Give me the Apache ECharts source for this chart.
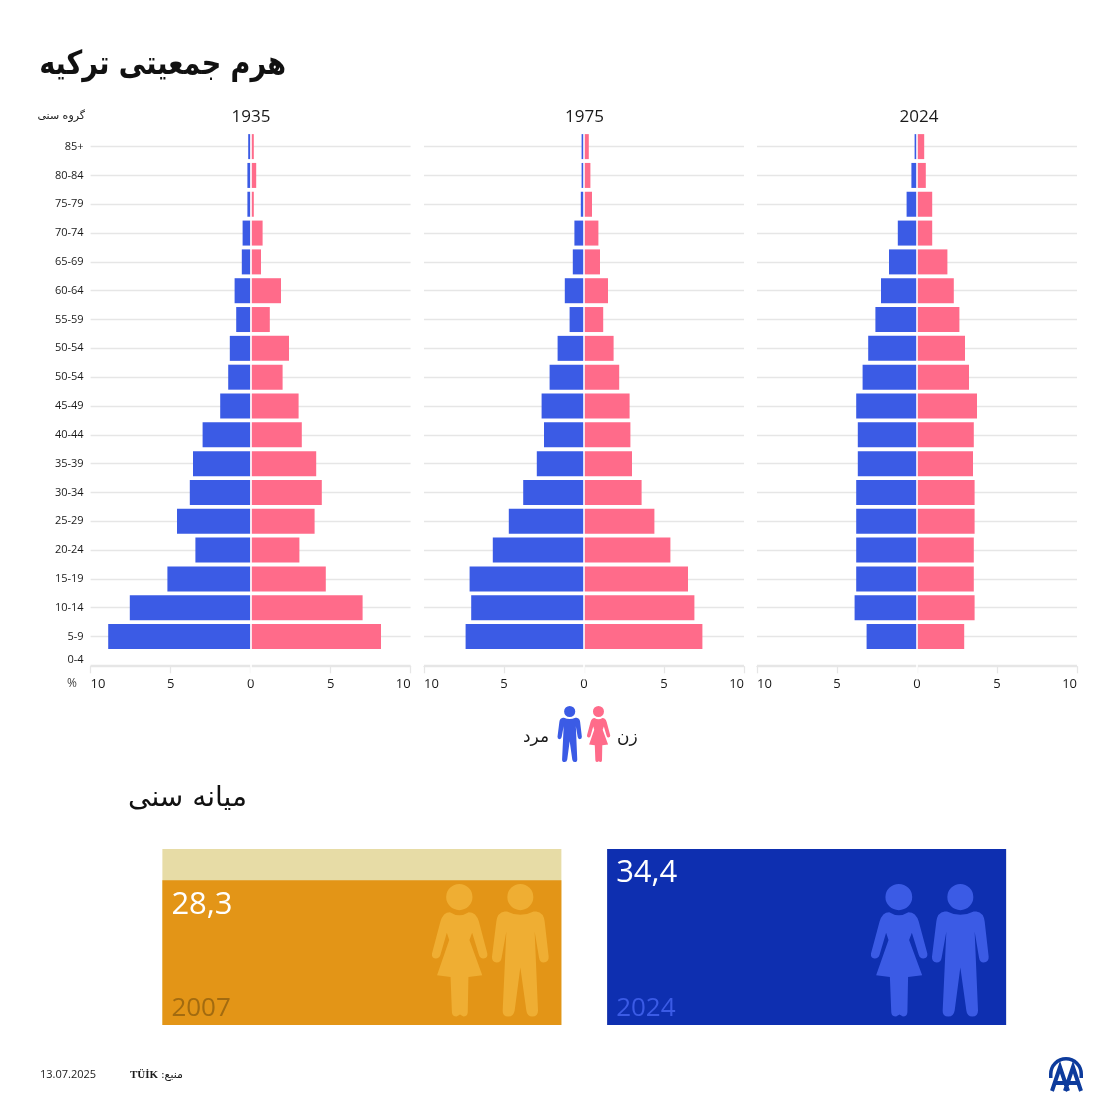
<!DOCTYPE html>
<html>
<head>
<meta charset="utf-8">
<script src="https://cdn.jsdelivr.net/npm/echarts@6/dist/echarts.min.js"></script>
<style>
html, body { margin: 0; padding: 0; background: #fff; }
#main { width: 1120px; height: 1120px; }
</style>
</head>
<body>
<div id="main"></div>
<script>
var ageGroups = ['85+', '80-84', '75-79', '70-74', '65-69', '60-64', '55-59', '50-54', '50-54', '45-49', '40-44', '35-39', '30-34', '25-29', '20-24', '15-19', '10-14', '5-9', '0-4'];
var years = ['1935', '1975', '2024'];

var male1935 = [0.15, 0.2, 0.2, 0.5, 0.55, 1.0, 0.9, 1.3, 1.4, 1.9, 3.0, 3.6, 3.8, 4.6, 3.45, 5.2, 7.55, 8.9, null];
var female1935 = [0.2, 0.35, 0.2, 0.75, 0.65, 1.9, 1.2, 2.4, 2.0, 3.0, 3.2, 4.1, 4.45, 4.0, 3.05, 4.7, 7.0, 8.15, null];
var male1975 = [0.15, 0.15, 0.2, 0.6, 0.7, 1.2, 0.9, 1.65, 2.15, 2.65, 2.5, 2.95, 3.8, 4.7, 5.7, 7.15, 7.05, 7.4, null];
var female1975 = [0.3, 0.4, 0.5, 0.9, 1.0, 1.5, 1.2, 1.85, 2.2, 2.85, 2.9, 3.0, 3.6, 4.4, 5.4, 6.5, 6.9, 7.4, null];
var male2024 = [0.15, 0.35, 0.65, 1.2, 1.75, 2.25, 2.6, 3.05, 3.4, 3.8, 3.7, 3.7, 3.8, 3.8, 3.8, 3.8, 3.9, 3.15, null];
var female2024 = [0.45, 0.55, 0.95, 0.95, 1.9, 2.3, 2.65, 3.0, 3.25, 3.75, 3.55, 3.5, 3.6, 3.6, 3.55, 3.55, 3.6, 2.95, null];

var medianYears = ['2007', '2024'];
var medianAge = [28.3, 34.4];

var maleData = [male1935, male1975, male2024];
var femaleData = [female1935, female1975, female2024];
var panelLeft = [90.6, 424, 757];
var font = '"Open Sans", sans-serif';
var arabicFont = '"DejaVu Sans", sans-serif';

// icon outlines, local box: man x 277-448, woman x 97-263, both y 73-468
var manPath = 'M323 112A39 39 0 1 1 401 112A39 39 0 1 1 323 112Z M322 155Q362 175 402 155L410 155Q432 158 435 185L447 290Q448 306 432 307Q420 307 418 292L405 215L415 450Q415 468 398 468Q382 468 380 450L362 322L345 450Q342 468 326 468Q308 468 309 450L320 215L306 292Q304 307 291 307Q276 306 277 290L290 185Q293 158 315 155Z';
var womanPath = 'M139 112A39 39 0 1 1 217 112A39 39 0 1 1 139 112Z M150 157Q178 175 206 157Q228 157 236 185L261 280Q263 293 250 295Q240 296 236 284L216 218L208 240L246 345L205 350L203 455Q202 468 190 468L180 462L170 468Q157 468 156 455L152 350L112 345L148 240L141 218L122 284Q118 296 107 295Q95 293 97 280L122 185Q130 157 150 157Z';
var logoPath = 'M1049 1078L1049 1074A17 17 0 0 1 1083 1074L1083 1078L1079.5 1078L1079.5 1074A13.5 13.5 0 0 0 1052.5 1074L1052.5 1078Z';
var logoLetters = 'M1052 1091L1060 1067L1068 1091M1056 1083L1064 1083M1065 1091L1073 1067L1081 1091M1069 1083L1077 1083';

echarts.graphic.registerShape('manIcon', echarts.graphic.extendPath(manPath, {}));
echarts.graphic.registerShape('womanIcon', echarts.graphic.extendPath(womanPath, {}));
echarts.graphic.registerShape('logoArc', echarts.graphic.extendPath(logoPath, {}));
echarts.graphic.registerShape('logoLetters', echarts.graphic.extendPath(logoLetters, {}));

function man(x, y, h, w, color) {
    return {
        type: 'manIcon', z: 20, x: x - 277 * w / 171, y: y - 73 * h / 395,
        scaleX: w / 171, scaleY: h / 395, style: { fill: color }
    };
}

function woman(x, y, h, w, color) {
    return {
        type: 'womanIcon', z: 20, x: x - 97 * w / 166, y: y - 73 * h / 395,
        scaleX: w / 166, scaleY: h / 395, style: { fill: color }
    };
}

function label(text, x, y, size, align, color, family, weight, scaleX) {
    return {
        type: 'text',
        x: x,
        y: y,
        z: 20,
        scaleX: scaleX || 1,
        style: {
            text: text,
            fill: color || '#1a1a1a',
            font: (weight || 'normal') + ' ' + size + 'px ' + (family || font),
            align: align || 'left',
            verticalAlign: 'middle'
        }
    };
}

var grids = [], xAxes = [], yAxes = [], series = [];

years.forEach(function (year, i) {
    grids.push({ left: panelLeft[i], width: 320, top: 132.2, height: 547.6 });
    xAxes.push({
        gridIndex: i,
        type: 'value',
        min: -10,
        max: 10,
        interval: 5,
        offset: -13.5,
        axisLine: { show: true, onZero: false, lineStyle: { color: '#e6e6e6', width: 1.3 } },
        axisTick: { show: true, length: 7, lineStyle: { color: '#e6e6e6', width: 1.3 } },
        splitLine: { show: false },
        axisLabel: {
            color: '#1a1a1a',
            fontFamily: font,
            fontSize: 13,
            margin: 11,
            alignMinLabel: 'left',
            alignMaxLabel: 'right',
            formatter: function (v) { return Math.abs(v); }
        }
    });
    yAxes.push({
        gridIndex: i,
        type: 'category',
        inverse: true,
        data: ageGroups,
        axisLine: { show: false, onZero: false },
        axisTick: { show: false },
        splitLine: { show: true, alignWithLabel: true, lineStyle: { color: '#e6e6e6', width: 1.3 } },
        axisLabel: {
            show: i === 0,
            interval: 0,
            color: '#1a1a1a',
            fontFamily: font,
            fontSize: 11,
            margin: 7,
            // the last label sits a little higher than its band
            formatter: function (v) { return v === '0-4' ? '{up|' + v + '}' : v; },
            rich: { up: { padding: [0, 0, 11, 0], fontFamily: font, fontSize: 11, color: '#1a1a1a' } }
        }
    });
    series.push({
        name: 'مرد ' + year,
        type: 'bar',
        xAxisIndex: i,
        yAxisIndex: i,
        barWidth: 25,
        barGap: '-100%',
        animation: false,
        itemStyle: { color: '#3b5be5' },
        data: maleData[i].map(function (v) { return v === null ? null : -v; })
    });
    series.push({
        name: 'زن ' + year,
        type: 'bar',
        xAxisIndex: i,
        yAxisIndex: i,
        barWidth: 25,
        barGap: '-100%',
        animation: false,
        itemStyle: { color: '#ff6b8a' },
        data: femaleData[i],
        markLine: {
            silent: true,
            symbol: 'none',
            animation: false,
            label: { show: false },
            lineStyle: { color: '#fff', width: 1.6, type: 'solid' },
            data: [{ xAxis: 0 }]
        }
    });
});

// median age panels, height of the bars is proportional to the age
grids.push({ left: 139.5, width: 889.5, top: 849, height: 176 });
xAxes.push({
    gridIndex: 3,
    type: 'category',
    data: medianYears,
    axisLine: { show: false },
    axisTick: { show: false },
    axisLabel: { show: false }
});
yAxes.push({ gridIndex: 3, type: 'value', min: 0, max: 34.4, show: false, splitLine: { show: false } });
series.push({
    type: 'bar',
    xAxisIndex: 3,
    yAxisIndex: 3,
    barWidth: 399,
    barGap: '-100%',
    animation: false,
    showBackground: true,
    backgroundStyle: { color: '#e7dca6' },
    data: [
        { value: medianAge[0], itemStyle: { color: '#e39517' } },
        { value: medianAge[1], itemStyle: { color: '#0e2fb0' } }
    ],
    label: {
        show: true,
        position: 'insideTopLeft',
        distance: 9,
        color: '#fff',
        fontFamily: font,
        fontSize: 31,
        formatter: function (p) { return String(p.value).replace('.', ','); }
    }
});
series.push({
    type: 'bar',
    xAxisIndex: 3,
    yAxisIndex: 3,
    barWidth: 399,
    barGap: '-100%',
    animation: false,
    itemStyle: { color: 'rgba(0,0,0,0)' },
    data: [
        { value: medianAge[0], label: { color: '#a26b10' } },
        { value: medianAge[1], label: { color: '#3b5be5' } }
    ],
    label: {
        show: true,
        position: 'insideBottomLeft',
        distance: 3,
        offset: [6, 0],
        fontFamily: font,
        fontSize: 26,
        formatter: '{b}'
    }
});

var graphics = [
    label('هرم جمعیتی ترکیه', 286, 65, 33, 'right', '#111', arabicFont, 'bold', 0.82),
    label('گروه سنی', 85, 116, 11, 'right', '#1a1a1a', arabicFont),
    label('%', 72, 684, 12, 'center', '#444'),
    label('1935', 251, 117, 17, 'center'),
    label('1975', 584.5, 117, 17, 'center'),
    label('2024', 919, 117, 17, 'center'),
    label('مرد', 549, 738, 17, 'right', '#1a1a1a', arabicFont),
    label('زن', 617, 738, 17, 'left', '#1a1a1a', arabicFont),
    label('میانه سنی', 247, 799, 28, 'right', '#111', arabicFont),
    label('13.07.2025', 40, 1075, 11, 'left'),
    label('TÜİK', 130, 1075, 11, 'left', '#1a1a1a', '"Liberation Serif", serif', 'bold'),
    label(':منبع', 183, 1075, 11, 'right', '#1a1a1a', arabicFont),
    man(557.5, 706, 56, 24.5, '#3b5be5'),
    woman(587, 706, 56, 23.5, '#ff6b8a'),
    woman(432, 884, 132.5, 56, '#efae33'),
    man(492, 884, 132.5, 57, '#efae33'),
    woman(871, 884, 132.5, 57, '#3b5be5'),
    man(932, 884, 132.5, 57, '#3b5be5'),
    { type: 'logoArc', z: 20, style: { fill: '#0d3b9c' } },
    { type: 'logoLetters', z: 20, style: { fill: 'none', stroke: '#0d3b9c', lineWidth: 4 } }
];

var option = {
    backgroundColor: '#fff',
    animation: false,
    grid: grids,
    xAxis: xAxes,
    yAxis: yAxes,
    series: series,
    graphic: graphics
};

echarts.init(document.getElementById('main')).setOption(option);
</script>
</body>
</html>
